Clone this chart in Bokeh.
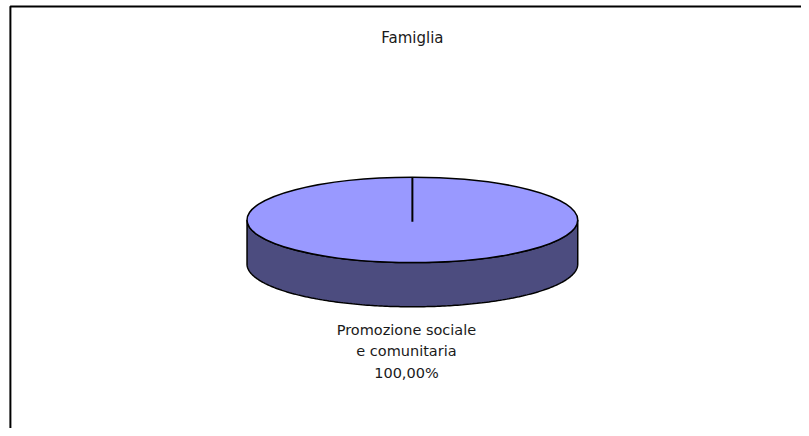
import numpy as np
from bokeh.plotting import figure
from bokeh.models import Range1d
from bokeh.embed import file_html
from bokeh.resources import INLINE
from bokeh.core.properties import value

# ---- data ----
chart_title = "Famiglia"
categories = ["Promozione sociale\ne comunitaria"]
values = [100.0]
top_colors = ["#9999FF"]
side_colors = ["#4C4C7F"]

# ---- layout (coordinates in reference-image pixels) ----
W, H = 801, 428
RW, RH = 809, 436
cx, cy = 416.0, 223.5
rx, ry = 167.0, 43.5
depth = 45.0
FONT = "DejaVu Sans"

p = figure(width=W, height=H, output_backend="svg", toolbar_location=None,
           x_range=Range1d(0, RW), y_range=Range1d(RH, 0), min_border=0)
p.axis.visible = False
p.grid.visible = False
p.outline_line_color = None
p.background_fill_color = "white"
p.border_fill_color = "white"

# chart border (left and top visible)
p.line(x=[10, 10, RW + 5], y=[RH + 5, 6, 6], line_color="black", line_width=2)

total = float(sum(values))
fracs = [v / total for v in values]

# side (front) of the 3D pie
t = np.linspace(0, np.pi, 200)
xs_top = cx + rx * np.cos(t)
ys_top = cy + ry * np.sin(t)
xs_bot = (cx + rx * np.cos(t))[::-1]
ys_bot = (cy + depth + ry * np.sin(t))[::-1]
p.patch(x=np.concatenate([xs_top, xs_bot]), y=np.concatenate([ys_top, ys_bot]),
        fill_color=side_colors[0], line_color="black", line_width=1.5)

# top face
p.ellipse(x=[cx], y=[cy], width=[2 * rx], height=[2 * ry],
          fill_color=top_colors[0], line_color="black", line_width=1.5)

# slice boundaries (start at 12 o'clock, clockwise)
start = np.pi / 2
cum = 0.0
label_x, label_y, label_txt = [], [], []
for f, cat in zip(fracs, categories):
    a0 = start - 2 * np.pi * cum
    p.line(x=[cx, cx + rx * np.cos(a0)], y=[cy + 2, cy - ry * np.sin(a0)],
           line_color="black", line_width=2)
    mid = start - 2 * np.pi * (cum + f / 2)
    cum += f
    lines = cat.split("\n") + [f"{f*100:.2f}".replace(".", ",") + "%"]
    bx = cx + rx * np.cos(mid) - 6
    by = cy - (ry + depth + 24) * np.sin(mid)
    for i, ln in enumerate(lines):
        label_x.append(bx)
        label_y.append(by + i * 21.5)
        label_txt.append(ln)

p.text(x=label_x, y=label_y, text=label_txt, text_font=value(FONT),
       text_font_size="14.5px", text_align="center", text_baseline="middle",
       text_color="#1a1a1a")

p.text(x=[cx], y=[38], text=[chart_title], text_font=value(FONT),
       text_font_size="15px", text_align="center", text_baseline="middle",
       text_color="#1a1a1a")

open("out.html", "w").write(file_html(p, INLINE))
